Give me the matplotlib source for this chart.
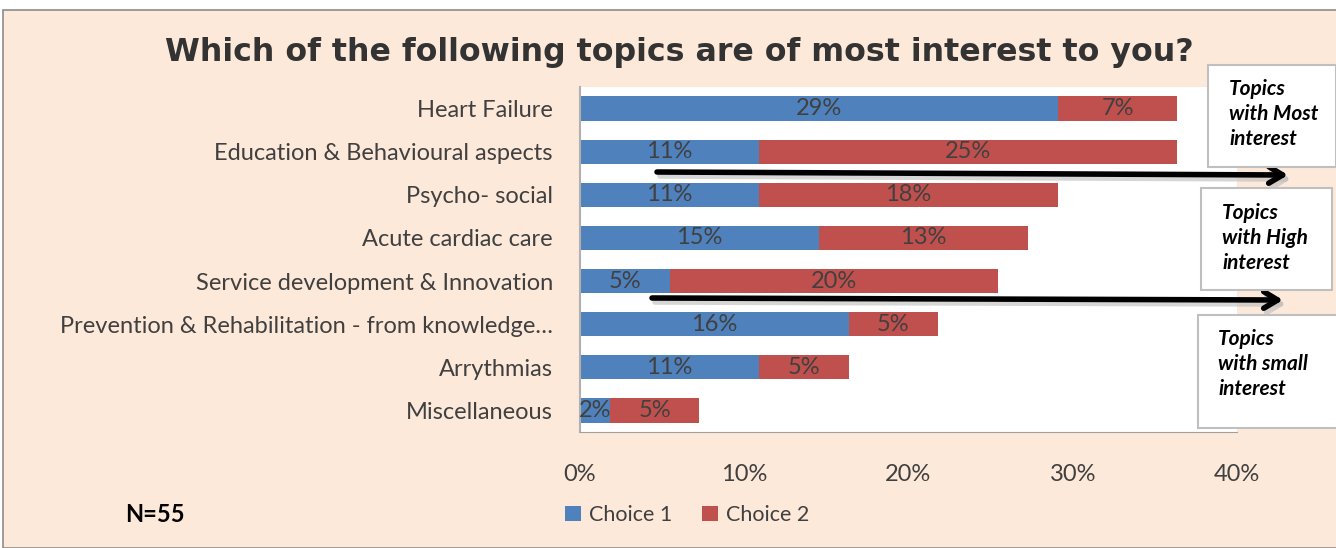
import matplotlib
matplotlib.use("Agg")
import matplotlib.pyplot as plt
from matplotlib.patches import Rectangle

categories = ["Heart Failure", "Education & Behavioural aspects", "Psycho- social",
              "Acute cardiac care", "Service development & Innovation",
              "Prevention & Rehabilitation - from knowledge\u2026", "Arrythmias", "Miscellaneous"]
choice1 = [29.09, 10.91, 10.91, 14.55, 5.45, 16.36, 10.91, 1.82]
choice2 = [7.27, 25.45, 18.18, 12.73, 20.00, 5.45, 5.45, 5.45]
xticks = [0, 10, 20, 30, 40]
xtick_labels = ["0%", "10%", "20%", "30%", "40%"]
box_texts = ["Topics\nwith Most\ninterest", "Topics\nwith High\ninterest", "Topics\nwith small\ninterest"]

W, H = 1336, 548
BLUE = "#4F81BD"
RED = "#C0504D"
PEACH = "#FDE9D9"
TXT = "#404040"
FONT = "Lato"
FS = 17

fig = plt.figure(figsize=(W / 100, H / 100), dpi=100)
fig.patch.set_facecolor("white")

def fx(px):
    return px / W

def fy(py):
    return 1 - py / H

# chart area background
fig.patches.append(Rectangle((fx(3), 0), 1, fy(10), transform=fig.transFigure,
                             facecolor=PEACH, edgecolor="#8c8c8c", lw=1.2, zorder=0))

ax = fig.add_axes([fx(580), fy(432), fx(1237) - fx(580), fy(87) - fy(432)])
ax.set_zorder(1)
ax.set_facecolor("white")
y = list(range(len(categories)))
ax.barh(y, choice1, height=0.56, color=BLUE, label="Choice 1", zorder=2)
ax.barh(y, choice2, left=choice1, height=0.56, color=RED, label="Choice 2", zorder=2)
for i in y:
    ax.text(choice1[i] / 2, i, f"{choice1[i]:.0f}%", ha="center", va="center",
            color=TXT, fontsize=FS, family=FONT, zorder=3)
    ax.text(choice1[i] + choice2[i] / 2, i, f"{choice2[i]:.0f}%", ha="center", va="center",
            color=TXT, fontsize=FS, family=FONT, zorder=3)

ax.set_xlim(0, 40)
ax.set_ylim(7.5, -0.5)
ax.set_yticks(y)
ax.set_yticklabels(categories, fontsize=FS, family=FONT, color=TXT)
ax.set_xticks(xticks)
ax.set_xticklabels(xtick_labels, fontsize=FS, family=FONT, color=TXT)
ax.tick_params(axis="y", length=0, pad=19.5)
ax.tick_params(axis="x", length=0, pad=23)
for s in ["top", "right"]:
    ax.spines[s].set_visible(False)
ax.spines["left"].set_color("#b0b0b0")
ax.spines["bottom"].set_color("#a0a0a0")
ax.spines["left"].set_linewidth(1.5)

fig.text(fx(679), fy(52), "Which of the following topics are of most interest to you?",
         ha="center", va="center", fontsize=22.8, fontweight="bold", color="#333333",
         family="DejaVu Sans")

leg = fig.legend(loc="center", bbox_to_anchor=(fx(687), fy(515)), ncol=2, frameon=False,
                 prop={"family": FONT, "size": 15.5}, handlelength=0.75, handleheight=0.75,
                 handletextpad=0.35, columnspacing=1.4, labelcolor=TXT)

fig.text(fx(155), fy(515), "N=55", ha="center", va="center", fontsize=17,
         fontweight="bold", family=FONT, color="black")

# arrows
for (x0, y0, x1, y1) in [(657, 172, 1288, 175), (652, 298, 1283, 300)]:
    fig.add_artist(matplotlib.patches.FancyArrowPatch(
        (fx(x0 + 3), fy(y0 + 4)), (fx(x1 + 3), fy(y1 + 4)), transform=fig.transFigure,
        arrowstyle="->,head_length=10,head_width=6", lw=4, color="#bbbbbb", alpha=0.6,
        shrinkA=0, shrinkB=0, zorder=5))
    fig.add_artist(matplotlib.patches.FancyArrowPatch(
        (fx(x0), fy(y0)), (fx(x1), fy(y1)), transform=fig.transFigure,
        arrowstyle="->,head_length=10,head_width=6", lw=4, color="black",
        shrinkA=0, shrinkB=0, zorder=6))

# text boxes
boxes = [(1208, 65, 1336, 167, 1229, 88), (1201, 188, 1332, 290, 1222, 212),
         (1198, 315, 1340, 428, 1218, 338)]
for (bx0, by0, bx1, by1, tx, ty), t in zip(boxes, box_texts):
    fig.patches.append(Rectangle((fx(bx0), fy(by1)), fx(bx1 - bx0), (by1 - by0) / H,
                                 transform=fig.transFigure, facecolor="white",
                                 edgecolor="#bfbfbf", lw=1.5, zorder=7))
    fig.text(fx(tx), fy(ty - 9), t, ha="left", va="top", fontsize=15, fontweight="bold",
             style="italic", family=FONT, color="black", linespacing=1.3, zorder=8)

fig.savefig("out.png", dpi=100, facecolor=fig.get_facecolor())
